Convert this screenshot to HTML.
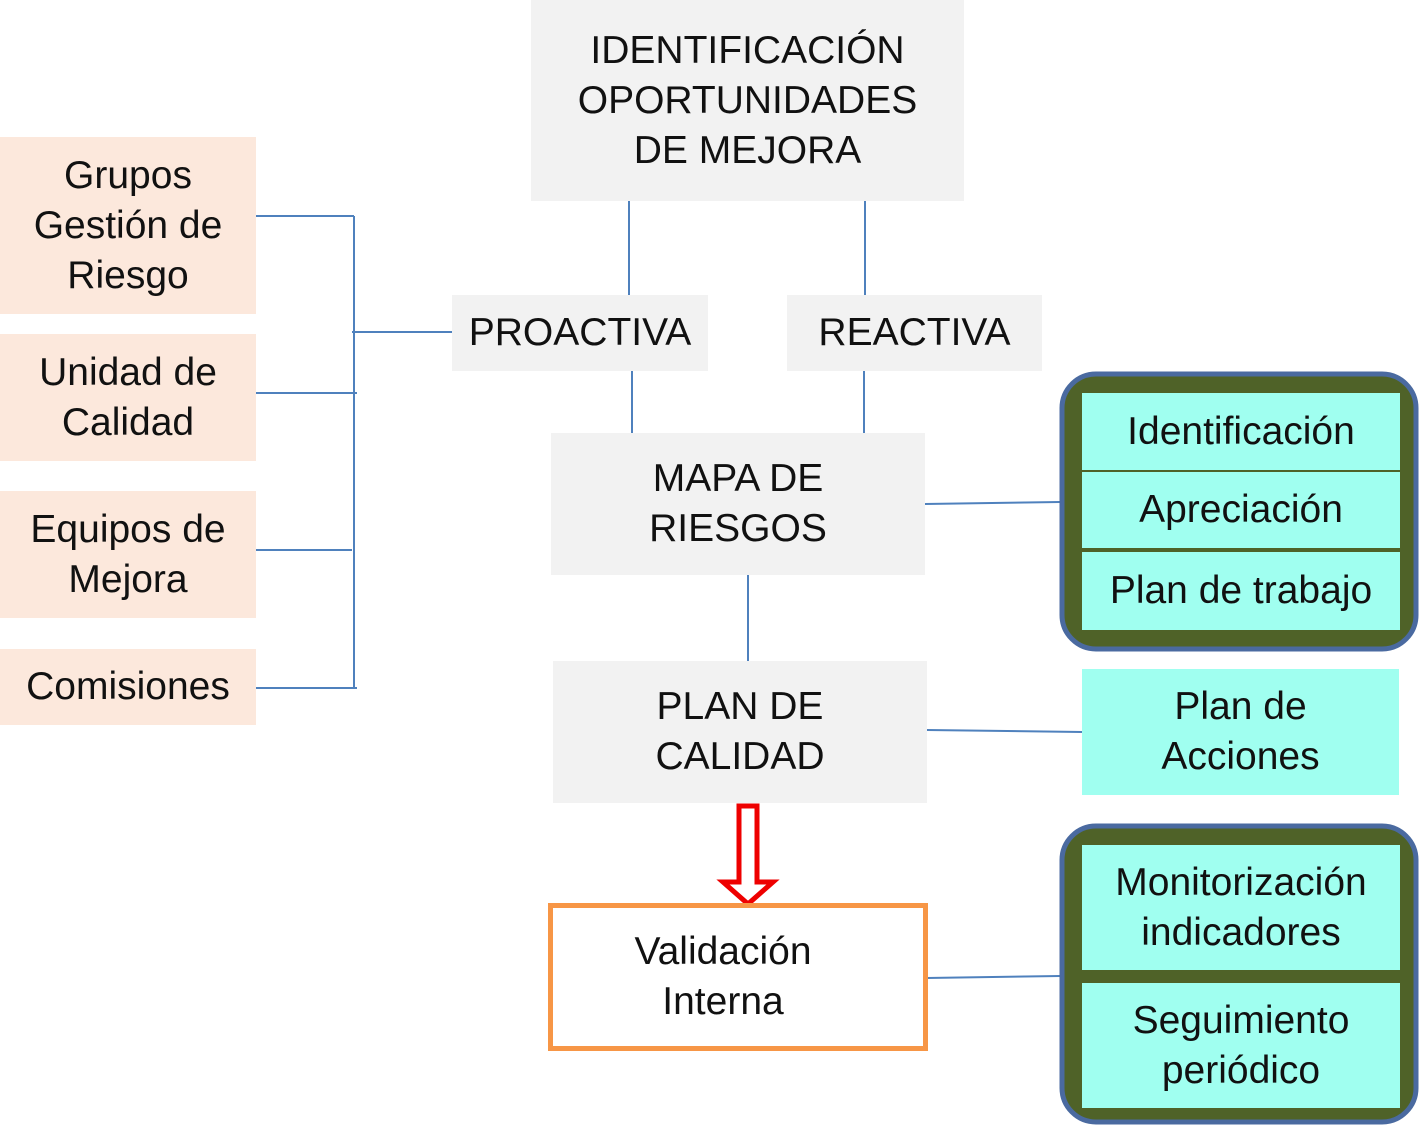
<!DOCTYPE html>
<html><head><meta charset="utf-8"><style>
body{margin:0;width:1420px;height:1125px;background:#fff;position:relative;overflow:hidden;font-family:"Liberation Sans",Arial,sans-serif;color:#111}
.b{position:absolute;display:flex;align-items:center;justify-content:center;text-align:center;font-size:39px;line-height:50px;box-sizing:border-box}
.p{background:#fce8dc}.g{background:#f2f2f2}.c{background:#a0fff0}
svg{position:absolute;left:0;top:0}
</style></head><body>
<svg width="1420" height="1125">
<g stroke="#4f81bd" stroke-width="2" fill="none">
<line x1="354" y1="216" x2="354" y2="689"/>
<line x1="256" y1="216" x2="354" y2="216"/>
<line x1="256" y1="393" x2="357" y2="393"/>
<line x1="256" y1="550" x2="352" y2="550"/>
<line x1="256" y1="688" x2="357" y2="688"/>
<line x1="352" y1="332" x2="452" y2="332"/>
<line x1="629" y1="197" x2="629" y2="295"/>
<line x1="865" y1="197" x2="865" y2="295"/>
<line x1="632" y1="368" x2="632" y2="433"/>
<line x1="864" y1="368" x2="864" y2="433"/>
<line x1="748" y1="571" x2="748" y2="661"/>
<line x1="925" y1="504" x2="1060" y2="502"/>
<line x1="927" y1="730" x2="1082" y2="732"/>
<line x1="927" y1="978" x2="1060" y2="976"/>
</g>
<rect x="1062" y="374" width="354" height="275" rx="34" fill="#4f6228" stroke="#4a6aa0" stroke-width="5"/>
<rect x="1062" y="826" width="354" height="296" rx="34" fill="#4f6228" stroke="#4a6aa0" stroke-width="5"/>
<path d="M739,806 H757 V882 H773 L748,904 L723,882 H739 Z" fill="#fff" stroke="#ee0000" stroke-width="5"/>
<rect x="550.5" y="905.5" width="375" height="143" fill="#fff" stroke="#f79646" stroke-width="5"/>
</svg>
<div class="b g" style="left:531px;top:0;width:433px;height:201px;padding-top:0">IDENTIFICACIÓN<br>OPORTUNIDADES<br>DE MEJORA</div>
<div class="b p" style="left:0;top:137px;width:256px;height:177px">Grupos<br>Gestión de<br>Riesgo</div>
<div class="b p" style="left:0;top:334px;width:256px;height:127px">Unidad de<br>Calidad</div>
<div class="b p" style="left:0;top:491px;width:256px;height:127px">Equipos de<br>Mejora</div>
<div class="b p" style="left:0;top:649px;width:256px;height:76px">Comisiones</div>
<div class="b g" style="left:452px;top:295px;width:256px;height:76px">PROACTIVA</div>
<div class="b g" style="left:787px;top:295px;width:255px;height:76px">REACTIVA</div>
<div class="b g" style="left:551px;top:433px;width:374px;height:142px">MAPA DE<br>RIESGOS</div>
<div class="b g" style="left:553px;top:661px;width:374px;height:142px">PLAN DE<br>CALIDAD</div>
<div class="b" style="left:553px;top:908px;width:340px;height:138px">Validación<br>Interna</div>
<div class="b c" style="left:1082px;top:669px;width:317px;height:126px">Plan de<br>Acciones</div>
<div class="b c" style="left:1082px;top:393px;width:318px;height:77px">Identificación</div>
<div class="b c" style="left:1082px;top:472px;width:318px;height:76px">Apreciación</div>
<div class="b c" style="left:1082px;top:552px;width:318px;height:78px">Plan de trabajo</div>
<div class="b c" style="left:1082px;top:845px;width:318px;height:125px">Monitorización<br>indicadores</div>
<div class="b c" style="left:1082px;top:983px;width:318px;height:125px">Seguimiento<br>periódico</div>
</body></html>
